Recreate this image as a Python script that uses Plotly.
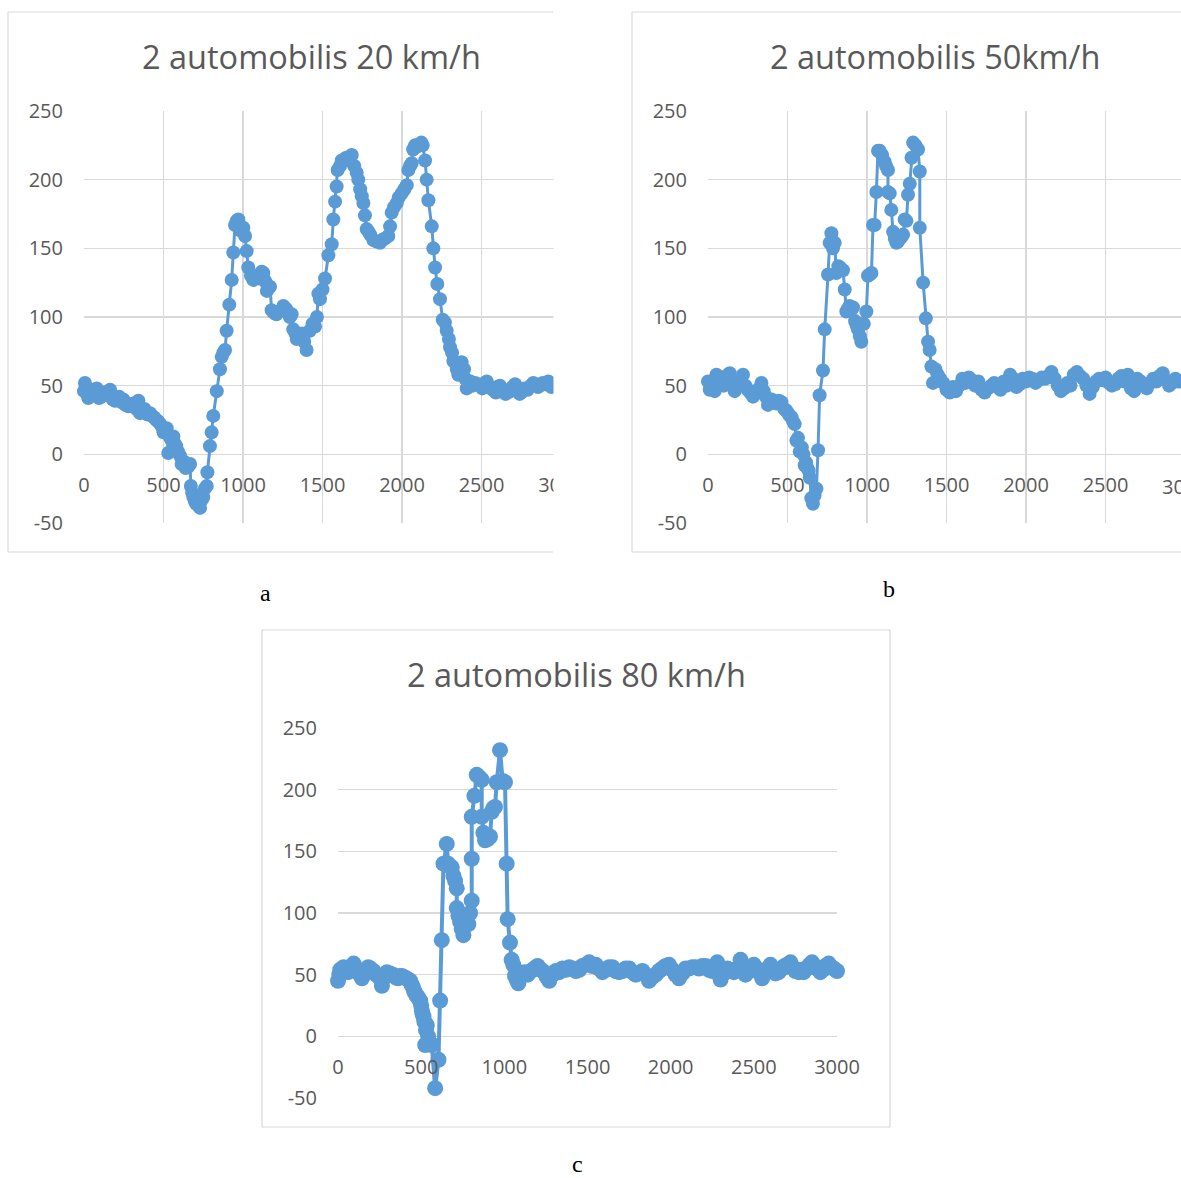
import plotly.graph_objects as go

W, H = 1181, 1178


def fx(p):
    return p / W


def fy(p):
    return 1 - p / H


# ---------------- data ----------------
titles = ["2 automobilis 20 km/h", "2 automobilis 50km/h", "2 automobilis 80 km/h"]
panel_labels = ["a", "b", "c"]
x_ticks = [0, 500, 1000, 1500, 2000, 2500, 3000]
y_ticks = [-50, 0, 50, 100, 150, 200, 250]

a_x = [0, 6, 15, 20, 27, 40, 50, 65, 80, 95, 111, 125, 140, 152, 164, 180, 195, 208, 220, 235,
       247, 260, 279, 295, 310, 330, 342, 352, 365, 380, 400, 415, 428, 440, 455, 467, 480, 490, 500, 510,
       520, 530, 541, 552, 562, 570, 580, 592, 604, 614, 625, 640, 655, 667, 672, 680, 688, 697, 705, 718,
       730, 742, 750, 760, 772, 776, 792, 803, 813, 835, 855, 866, 876, 887, 897, 914, 929, 939, 950, 960,
       971, 985, 1002, 1013, 1023, 1033, 1050, 1065, 1090, 1105, 1118, 1128, 1140, 1150, 1170, 1180, 1195, 1210, 1230, 1254,
       1270, 1280, 1295, 1306, 1316, 1330, 1338, 1355, 1370, 1385, 1400, 1420, 1437, 1453, 1465, 1474, 1484, 1500, 1516, 1537,
       1558, 1568, 1579, 1589, 1595, 1610, 1621, 1640, 1650, 1665, 1684, 1700, 1715, 1725, 1737, 1747, 1757, 1767, 1778, 1790,
       1800, 1820, 1840, 1862, 1875, 1890, 1914, 1925, 1935, 1950, 1967, 1980, 1998, 2015, 2030, 2040, 2050, 2061, 2070, 2082,
       2093, 2103, 2113, 2122, 2130, 2145, 2155, 2166, 2187, 2197, 2208, 2222, 2239, 2256, 2270, 2281, 2295, 2302, 2315, 2323,
       2333, 2345, 2354, 2365, 2375, 2390, 2398, 2407, 2420, 2430, 2445, 2460, 2475, 2490, 2505, 2520, 2533, 2550, 2570, 2590,
       2600, 2616, 2630, 2650, 2665, 2680, 2695, 2711, 2725, 2740, 2750, 2770, 2790, 2810, 2826, 2840, 2855, 2870, 2885, 2900,
       2920, 2940, 2960, 2980, 3000]
a_y = [46, 52, 47, 44, 41, 45, 47, 44, 48, 41, 42, 45, 45, 43, 47, 40, 39, 41, 42, 38,
       40, 36, 35, 36, 37, 33, 39, 30, 32, 33, 29, 30, 28, 27, 25, 24, 22, 20, 16, 18,
       19, 1, 12, 10, 13, 8, 6, 2, -1, -7, -5, -10, -9, -7, -23, -28, -31, -34, -36, -37,
       -39, -33, -31, -25, -23, -13, 6, 16, 28, 46, 62, 71, 74, 76, 90, 109, 127, 147, 167, 170,
       171, 163, 165, 159, 148, 136, 130, 127, 130, 128, 133, 132, 126, 119, 122, 105, 103, 102, 104, 108,
       106, 104, 100, 102, 91, 88, 84, 86, 88, 82, 76, 90, 95, 93, 100, 117, 113, 120, 128, 145,
       153, 171, 184, 195, 207, 210, 214, 215, 216, 214, 218, 210, 205, 200, 193, 188, 183, 174, 164, 162,
       160, 156, 155, 154, 156, 157, 159, 166, 176, 180, 183, 187, 190, 193, 196, 207, 210, 212, 222, 225,
       224, 225, 226, 227, 225, 214, 200, 185, 166, 150, 136, 124, 113, 98, 96, 90, 84, 78, 74, 68,
       67, 62, 58, 64, 67, 62, 55, 48, 52, 53, 50, 52, 51, 50, 48, 52, 53, 49, 47, 45,
       49, 50, 46, 44, 45, 46, 49, 51, 47, 44, 45, 48, 47, 50, 52, 51, 49, 50, 52, 51,
       53, 49, 50, 52, 51]

b_x = [0, 11, 20, 30, 42, 53, 65, 80, 90, 100, 115, 137, 150, 168, 185, 200, 220, 235, 250, 265,
       283, 297, 310, 323, 336, 350, 363, 377, 390, 400, 415, 430, 445, 462, 480, 492, 503, 515, 525, 535,
       545, 556, 566, 577, 590, 600, 608, 617, 625, 633, 640, 650, 660, 670, 682, 692, 702, 723, 734, 755,
       765, 776, 786, 797, 807, 820, 830, 849, 860, 870, 880, 890, 900, 912, 925, 935, 943, 955, 964, 980,
       996, 1006, 1017, 1028, 1038, 1048, 1059, 1069, 1080, 1095, 1111, 1120, 1132, 1132, 1143, 1153, 1164, 1175, 1185, 1195,
       1205, 1215, 1227, 1237, 1248, 1258, 1269, 1280, 1290, 1305, 1321, 1332, 1332, 1353, 1370, 1384, 1394, 1405,
       1415, 1430, 1445, 1460, 1480, 1500, 1520, 1540, 1560, 1580,
       1600, 1620, 1640, 1660, 1680, 1700, 1720, 1740, 1760, 1780,
       1800, 1820, 1840, 1860, 1880, 1900, 1920, 1940, 1960, 1980,
       2000, 2020, 2040, 2060, 2080, 2100, 2120, 2140, 2160, 2180,
       2200, 2220, 2240, 2260, 2280, 2300, 2320, 2340, 2360, 2380,
       2400, 2420, 2440, 2460, 2480, 2500, 2520, 2540, 2560, 2580,
       2600, 2620, 2640, 2660, 2680, 2700, 2720, 2740, 2760, 2780,
       2800, 2820, 2840, 2860, 2880, 2900, 2920, 2940, 2960, 2980,
       3000]
b_y = [53, 47, 51, 50, 46, 58, 52, 55, 52, 50, 57, 59, 52, 46, 53, 50, 58, 50, 47, 45,
       42, 46, 45, 48, 52, 46, 42, 36, 40, 40, 38, 37, 39, 38, 33, 32, 30, 28, 27, 24,
       22, 10, 12, 2, 5, 0, -8, -6, -10, -12, -17, -32, -36, -30, -25, 3, 43, 61, 91, 131,
       154, 161, 150, 154, 132, 137, 136, 134, 120, 104, 106, 108, 105, 107, 97, 94, 91, 86, 82, 95,
       104, 130, 131, 132, 167, 167, 191, 221, 221, 218, 213, 210, 207, 191, 190, 178, 162, 157, 154, 155,
       157, 158, 160, 171, 170, 189, 197, 216, 227, 225, 222, 206, 165, 125, 99, 82, 76, 64,
       52, 62, 58, 55, 52, 47, 45, 49, 46, 50,
       55, 52, 56, 54, 50, 53, 47, 45, 48, 50,
       52, 49, 47, 53, 50, 58, 55, 49, 51, 55,
       53, 56, 55, 52, 54, 56, 55, 57, 60, 55,
       50, 46, 48, 52, 50, 58, 60, 57, 55, 50,
       44, 49, 53, 55, 54, 56, 52, 50, 51, 55,
       57, 53, 58, 48, 46, 55, 53, 50, 48, 52,
       55, 53, 57, 59, 54, 50, 52, 55, 53, 56,
       54]

c_x = [0, 8, 14, 24, 34, 47, 60, 77, 94, 108, 120, 132, 144, 158, 170, 182, 194, 212, 230, 248,
       264, 280, 294, 312, 330, 345, 360, 372, 384, 397, 410, 422, 434, 442, 450, 457, 464, 472, 480, 487,
       494, 500, 504, 509, 514, 519, 524, 529, 534, 542, 550, 557, 564, 584, 604, 614, 624, 634, 654, 662,
       670, 684, 694, 704, 714, 714, 724, 734, 744, 754, 770, 784, 794, 804, 804, 804, 820, 834, 850, 864,
       864, 874, 884, 900, 914, 924, 934, 944, 954, 974, 990, 1004, 1014, 1020, 1034, 1044, 1054, 1064, 1074, 1084,
       1100, 1120, 1140, 1160, 1180, 1200, 1220, 1240, 1255, 1270, 1290, 1310, 1330, 1350, 1370, 1390, 1410, 1430, 1450, 1470,
       1490, 1510, 1530, 1550, 1570, 1590, 1610, 1630, 1650, 1670, 1690, 1710, 1730, 1750, 1770, 1790, 1810, 1830, 1850, 1870,
       1890, 1910, 1930, 1950, 1970, 1990, 2010, 2030, 2050, 2070, 2090, 2110, 2130, 2150, 2170, 2190, 2210, 2230, 2250, 2265,
       2280, 2290, 2300, 2320, 2340, 2360, 2380, 2400, 2420, 2435, 2450, 2470, 2490, 2500, 2515, 2530, 2550, 2570, 2585, 2600,
       2615, 2630, 2650, 2670, 2685, 2700, 2720, 2735, 2750, 2770, 2785, 2800, 2815, 2835, 2850, 2865, 2880, 2900, 2915, 2930,
       2950, 2965, 2980, 3000]
c_y = [45, 50, 54, 52, 56, 54, 52, 56, 59, 55, 52, 50, 47, 51, 52, 56, 55, 53, 50, 48,
       41, 48, 52, 51, 50, 48, 47, 49, 49, 48, 47, 46, 45, 42, 40, 37, 35, 33, 32, 30,
       29, 25, 21, 18, 16, 12, -7, 5, 9, 0, -5, -6, -7, -42, -19, 29, 78, 140, 156, 140,
       138, 137, 130, 126, 120, 104, 98, 93, 87, 82, 95, 91, 100, 110, 144, 178, 195, 212, 210, 208,
       178, 165, 159, 160, 162, 182, 185, 186, 206, 232, 207, 206, 140, 95, 76, 62, 58, 49, 46, 43,
       50, 52, 50, 53, 55, 57, 54, 52, 48, 45, 50, 53, 52, 55, 54, 56, 55, 53, 54, 57,
       58, 60, 57, 58, 55, 52, 54, 56, 56, 53, 52, 53, 55, 55, 52, 50, 51, 53, 50, 45,
       48, 50, 53, 55, 57, 58, 54, 50, 47, 51, 55, 55, 56, 56, 55, 57, 57, 54, 53, 57,
       60, 52, 46, 51, 55, 54, 52, 55, 62, 56, 50, 53, 55, 58, 55, 52, 47, 52, 55, 58,
       54, 51, 52, 55, 57, 58, 60, 56, 53, 52, 54, 52, 55, 58, 60, 57, 55, 52, 54, 57,
       59, 56, 55, 53]

assert len(a_x) == len(a_y) and len(b_x) == len(b_y) and len(c_x) == len(c_y)

# ---------------- style ----------------
COLOR = "#5B9BD5"
GRID = "#D9D9D9"
TXT = "#595959"
FONT = "Open Sans"
TICK_SIZE = 20
TITLE_SIZE = 32.5

fig = go.Figure()

series = [(a_x, a_y, "x", "y", 14, 3), (b_x, b_y, "x2", "y2", 14, 3), (c_x, c_y, "x3", "y3", 16, 4)]
for xs, ys, xa, ya, msize, lw in series:
    fig.add_trace(go.Scatter(
        x=xs, y=ys, mode="lines+markers",
        line=dict(color=COLOR, width=lw),
        marker=dict(color=COLOR, size=msize, line=dict(width=0)),
        xaxis=xa, yaxis=ya, cliponaxis=False, showlegend=False,
        hoverinfo="skip",
    ))

tickfont = dict(family=FONT, size=TICK_SIZE, color=TXT)


def xaxis(domain, rng, zero_px, grid):
    return dict(domain=domain, range=rng, tickvals=x_ticks, ticktext=[str(v) for v in x_ticks],
                showgrid=grid, gridcolor=GRID, gridwidth=1.5, zeroline=False, showline=False,
                ticks="", tickfont=tickfont, anchor="free", position=fy(zero_px),
                ticklabelstandoff=16, fixedrange=True, automargin=False)


def yaxis(domain, anchor):
    return dict(domain=domain, range=[-50, 250], tickvals=y_ticks, ticktext=[str(v) for v in y_ticks],
                showgrid=True, gridcolor=GRID, gridwidth=1.5, zeroline=False, showline=False,
                ticks="", tickfont=tickfont, anchor=anchor, ticklabelstandoff=20, fixedrange=True,
                automargin=False)


b_right = (W - 708) / 477 * 3000

fig.update_layout(
    template="none",
    width=W, height=H, autosize=False, margin=dict(l=0, r=0, t=0, b=0, pad=0, autoexpand=False),
    paper_bgcolor="white", plot_bgcolor="rgba(0,0,0,0)", showlegend=False,
    xaxis=xaxis([fx(84), fx(561)], [0, 3000], 455, True),
    yaxis=yaxis([fy(523), fy(111)], "x"),
    xaxis2=xaxis([fx(708), 1.0], [0, b_right], 455, True),
    yaxis2=yaxis([fy(523), fy(111)], "x2"),
    xaxis3=xaxis([fx(338), fx(837)], [0, 3000], 1036.5, False),
    yaxis3=yaxis([fy(1098), fy(728)], "x3"),
)

shapes = []
line_style = dict(color=GRID, width=1.2)
# white mask: panel a is cut off on its right side
shapes.append(dict(type="rect", xref="paper", yref="paper", x0=fx(553.5), x1=fx(631), y0=fy(575), y1=1,
                   fillcolor="white", line=dict(width=0), layer="above"))
for x0, y0, x1, y1 in [(8, 12, 8, 552), (8, 12, 553, 12), (8, 552, 553, 552),
                       (632, 12, 632, 552), (632, 12, W, 12), (632, 552, W, 552)]:
    shapes.append(dict(type="line", xref="paper", yref="paper", x0=fx(x0), y0=fy(y0), x1=fx(x1), y1=fy(y1),
                       line=line_style, layer="above"))
shapes.append(dict(type="rect", xref="paper", yref="paper", x0=fx(262), x1=fx(890), y0=fy(1127), y1=fy(630),
                   line=line_style, fillcolor="rgba(0,0,0,0)", layer="above"))

annotations = []
for text, cx, cy in [(titles[0], 311, 57), (titles[1], 935, 57), (titles[2], 576, 674)]:
    annotations.append(dict(text=text, x=fx(cx), y=fy(cy), xref="paper", yref="paper",
                            showarrow=False, xanchor="center", yanchor="middle",
                            font=dict(family=FONT, size=TITLE_SIZE, color=TXT)))
# "3000" tick of panel b, cut by the page edge as in the original
annotations.append(dict(text=str(x_ticks[-1]), x=fx(1185), y=fy(486), xref="paper", yref="paper",
                        showarrow=False, xanchor="center", yanchor="middle", font=tickfont))
for text, cx, cy in [(panel_labels[0], 265, 593), (panel_labels[1], 889, 589), (panel_labels[2], 577, 1164)]:
    annotations.append(dict(text=text, x=fx(cx), y=fy(cy), xref="paper", yref="paper",
                            showarrow=False, xanchor="center", yanchor="middle", borderpad=0,
                            font=dict(family="Liberation Serif", size=24, color="black")))

fig.update_layout(shapes=shapes, annotations=annotations)

fig.write_html(
    "out.html",
    config={"displayModeBar": False, "staticPlot": True},
    post_script="document.body.style.margin='0';document.body.style.overflow='hidden';"
                "document.documentElement.style.overflow='hidden';",
)
